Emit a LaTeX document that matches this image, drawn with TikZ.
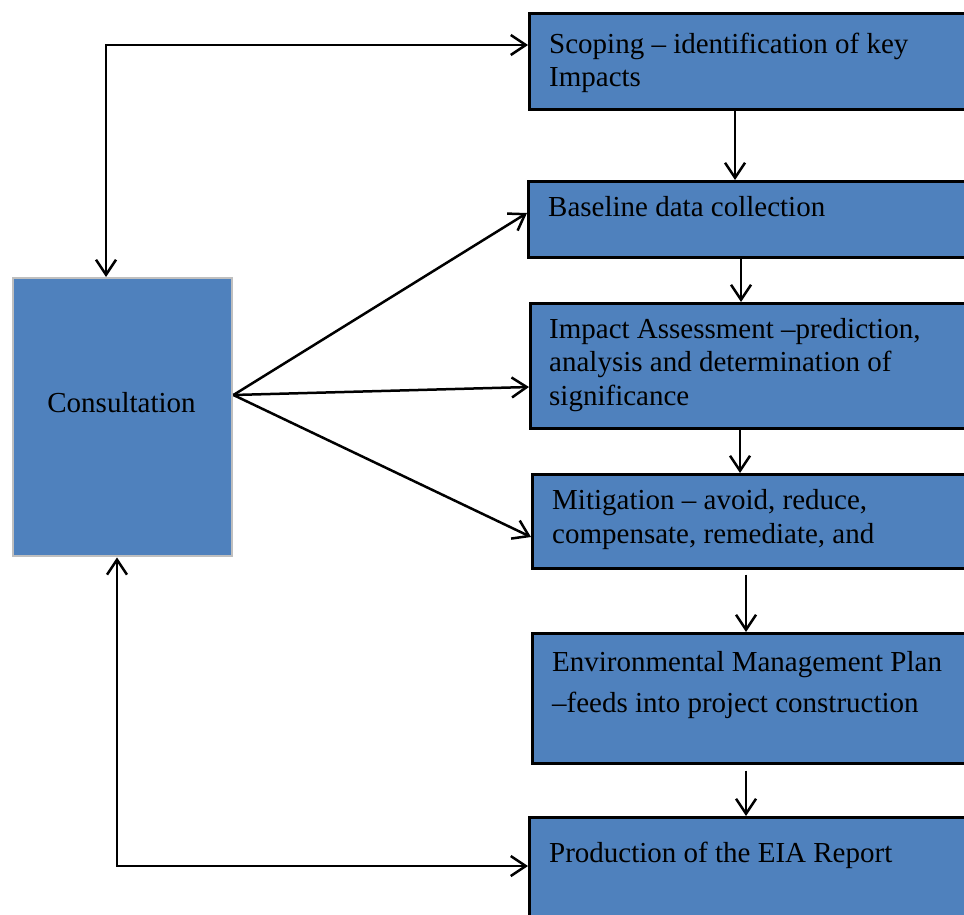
\documentclass[tikz,border=0pt]{standalone}
\usepackage{fontspec}
\setmainfont{Liberation Serif}
\usetikzlibrary{arrows.meta,calc}
\definecolor{boxblue}{HTML}{4F81BD}
\definecolor{cborder}{HTML}{BFBFBF}
\tikzset{
  stepbox/.style={draw=black, line width=2.6pt, fill=boxblue, anchor=north west, inner sep=0pt},
  consbox/.style={draw=cborder, line width=2.4pt, fill=boxblue, anchor=north west, inner sep=0pt},
  lbl/.style={font=\fontsize{29}{33.5}\selectfont, align=left, anchor=base west, inner sep=0pt},
  conn/.style={line width=2.5pt, -{Straight Barb[length=15pt,width=20pt]}},
  biconn/.style={line width=2.5pt, {Straight Barb[length=15pt,width=20pt]}-{Straight Barb[length=15pt,width=20pt]}}
}
\begin{document}
\begin{tikzpicture}[x=1pt,y=-1pt]
\useasboundingbox (0,0) rectangle (964,915);
\fill[white] (0,0) rectangle (964,915);
\clip (0,0) rectangle (964,915);
% boxes
\node[stepbox, minimum width=447, minimum height=96] (s) at (528,12) {};
\node[stepbox, minimum width=448, minimum height=76] (b) at (527,180) {};
\node[stepbox, minimum width=446, minimum height=125] (i) at (529,302) {};
\node[stepbox, minimum width=444, minimum height=94] (m) at (531,473) {};
\node[stepbox, minimum width=444, minimum height=130] (e) at (531,632) {};
\node[stepbox, minimum width=447, minimum height=120] (p) at (528,816) {};
\node[consbox, minimum width=219, minimum height=278] (c) at (12,277) {};
% labels (base = baseline of last line)
\node[lbl] (ls) at (549,87) {Scoping – identification of key\\Impacts};
\node[lbl] (lb) at (548,216) {Baseline data collection};
\node[lbl] (li) at (549,405) {Impact Assessment –prediction,\\analysis and determination of\\significance};
\node[lbl] (lm) at (552,543) {Mitigation – avoid, reduce,\\compensate, remediate, and};
\node[lbl, font=\fontsize{29}{41}\selectfont] (le) at (552,712) {Environmental Management Plan\\–feeds into project construction};
\node[lbl] (lp) at (549,862) {Production of the EIA Report};
\node[font=\fontsize{29}{33.5}\selectfont, anchor=base, inner sep=0pt] (lc) at (121.5,412) {Consultation};
% vertical flow
\coordinate (x1) at (735,0);
\coordinate (x2) at (741,0);
\coordinate (x3) at (740,0);
\coordinate (x4) at (746,0);
\draw[conn] (s.south -| x1) -- (b.north -| x1);
\draw[conn] (b.south -| x2) -- (i.north -| x2);
\draw[conn] (i.south -| x3) -- (m.north -| x3);
\draw[conn] ($(m.south -| x4)+(0,5)$) -- (e.north -| x4);
\draw[conn] ($(e.south -| x4)+(0,6)$) -- (p.north -| x4);
% fan from consultation
\coordinate (fan) at ($(c.north east)+(0,118)$);
\draw[conn] (fan) -- ($(b.north west)+(0,33)$);
\draw[conn] (fan) -- ($(i.north west)+(0,85)$);
\draw[conn] (fan) -- ($(m.north west)+(0,64)$);
% loops
\coordinate (xt) at (106,0);
\coordinate (xb) at (117,0);
\draw[biconn] (c.north -| xt) |- ($(s.north west)+(0,33)$);
\draw[biconn] (c.south -| xb) |- ($(p.north west)+(0,50)$);
\end{tikzpicture}
\end{document}
